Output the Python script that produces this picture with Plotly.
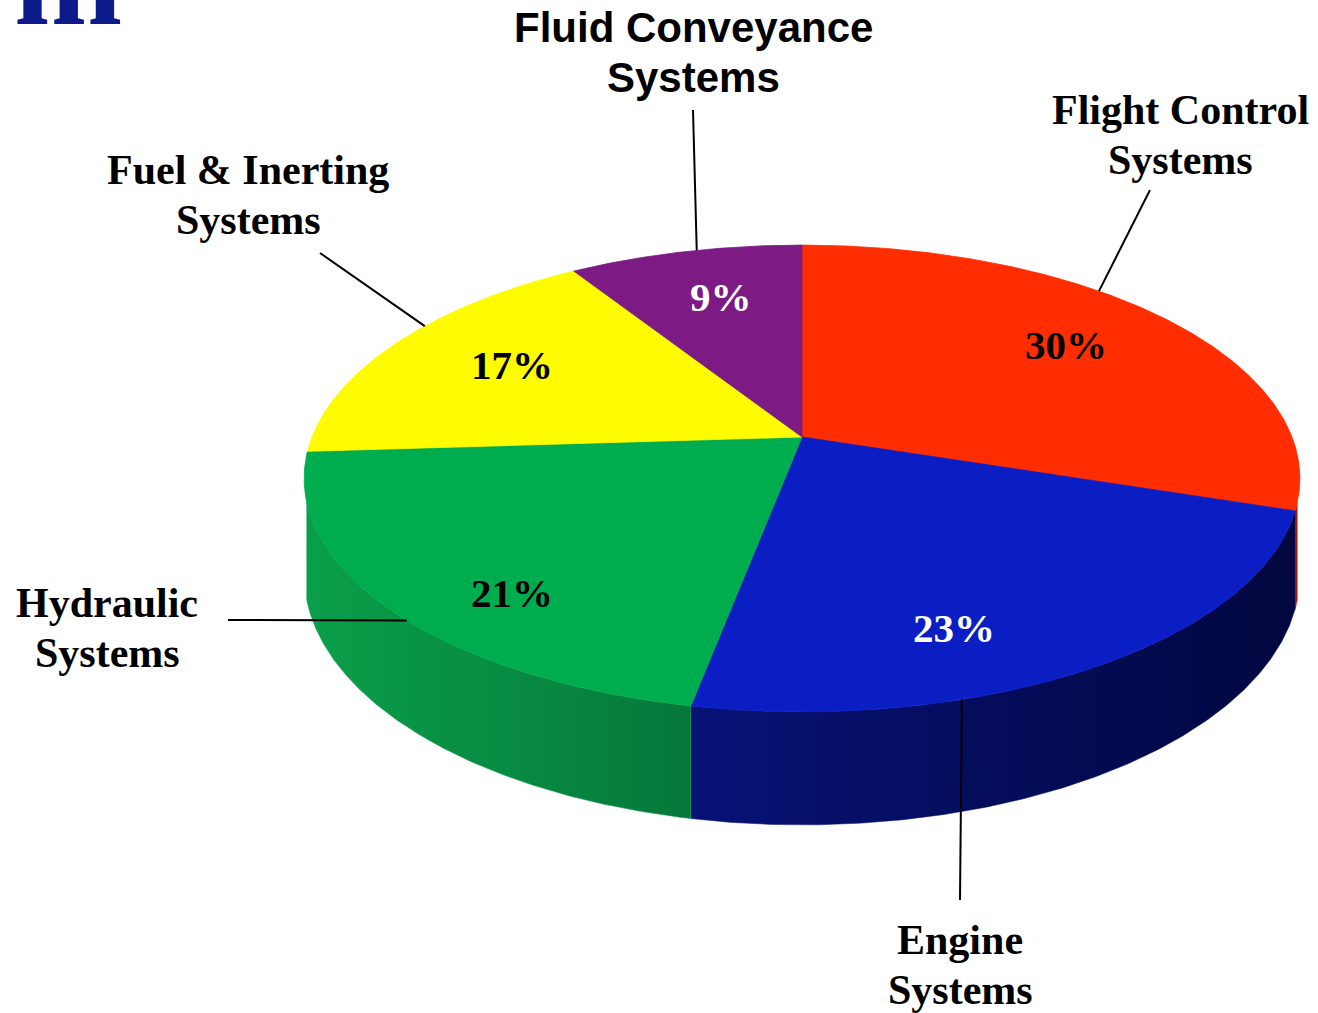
import numpy as np
import plotly.graph_objects as go

# ---------------- data ----------------
categories = ["Flight Control Systems", "Engine Systems", "Hydraulic Systems",
              "Fuel & Inerting Systems", "Fluid Conveyance Systems"]
values = [30, 23, 21, 17, 9]
pct_labels = ["30%", "23%", "21%", "17%", "9%"]
label_lines = [["Flight Control", "Systems"], ["Engine", "Systems"], ["Hydraulic", "Systems"],
               ["Fuel & Inerting", "Systems"], ["Fluid Conveyance", "Systems"]]

# ---------------- styles ----------------
top_colors = ["#ff2d00", "#0b1ec4", "#00ad4e", "#fffb00", "#7d1a83"]
side_colors = [["#c02000", "#901600"], ["#061276", "#02073f"], ["#0a9f4a", "#05783a"],
               ["#c8c400", "#a09c00"], ["#5a1060", "#400a45"]]
pct_colors = ["black", "white", "black", "black", "white"]
pct_r = [0.726, 0.783, 0.809, 0.713, 0.72]
pct_dt = [-1.0, 10.4, -8.0, 1.3, 1.3]
label_font = ["Liberation Serif"] * 4 + ["Liberation Sans"]
label_xy = [(1180, 110), (960, 940), (107, 603), (248, 170), (693, 27)]
leader_outer = [(1150, 190), (960, 900), (228, 620), (320, 253), (693, 110)]
leader_frac = [0.40, 0.68, 0.45, 0.59, 0.55]
LINE_GAP = 50
FONT_SIZE = 42
PCT_SIZE = 41

# perspective pie geometry (pixels)
CX, CY = 802, 437
F, G, K = 490, 226, 0.1776
DEPTH = 93
SIDE_RANGE = (106, 254)  # visible side band (degrees clockwise from top)


def proj(t_deg, r=1.0, h=0.0):
    t = np.radians(t_deg)
    X = r * np.sin(t)
    Z = r * np.cos(t)
    d = 1 + K * Z
    return CX + F * X / d, CY + (-G * Z + h) / d


total = float(sum(values))
cum = np.concatenate([[0], np.cumsum(values)]) / total * 360.0

fig = go.Figure()

# sides
for i in range(len(values)):
    a0, a1 = max(cum[i], SIDE_RANGE[0]), min(cum[i + 1], SIDE_RANGE[1])
    if a1 <= a0:
        continue
    tt = np.linspace(a0, a1, 200)
    xt, yt = proj(tt)
    xb, yb = proj(tt, h=DEPTH)
    xs = np.concatenate([xt, xb[::-1], xt[:1]])
    ys = np.concatenate([yt, yb[::-1], yt[:1]])
    fig.add_trace(go.Scatter(
        x=xs, y=ys, mode="lines", fill="toself",
        line=dict(width=0.5, color=side_colors[i][0]),
        fillgradient=dict(type="horizontal",
                          colorscale=[[0, side_colors[i][0]], [1, side_colors[i][1]]]),
        hoverinfo="skip", showlegend=False))

# top faces
for i in range(len(values)):
    tt = np.linspace(cum[i], cum[i + 1], 300)
    xr, yr = proj(tt)
    xs = np.concatenate([[CX], xr, [CX]])
    ys = np.concatenate([[CY], yr, [CY]])
    fig.add_trace(go.Scatter(
        x=xs, y=ys, mode="lines", fill="toself", fillcolor=top_colors[i],
        line=dict(width=0.8, color=top_colors[i]),
        hoverinfo="skip", showlegend=False))

annotations = []
# percentage labels
for i in range(len(values)):
    mid = (cum[i] + cum[i + 1]) / 2 + pct_dt[i]
    px, py = proj(mid, r=pct_r[i])
    annotations.append(dict(x=px, y=py, xref="x", yref="y", text=pct_labels[i], showarrow=False,
                            xanchor="center", yanchor="middle",
                            font=dict(family="Liberation Serif", size=PCT_SIZE,
                                      color=pct_colors[i], weight=700)))

# leader lines and category labels
for i in range(len(values)):
    t_in = cum[i] + leader_frac[i] * (cum[i + 1] - cum[i])
    ix, iy = proj(t_in)
    ox, oy = leader_outer[i]
    fig.add_trace(go.Scatter(x=[ox, ix], y=[oy, iy], mode="lines",
                             line=dict(color="black", width=2),
                             hoverinfo="skip", showlegend=False))
    lx, ly = label_xy[i]
    for j, line in enumerate(label_lines[i]):
        annotations.append(dict(x=lx, y=ly + j * LINE_GAP, xref="x", yref="y", text=line,
                                showarrow=False, xanchor="center", yanchor="middle",
                                font=dict(family=label_font[i], size=FONT_SIZE,
                                          color="black", weight=700)))

# clipped title fragment at top-left
annotations.append(dict(x=68 / 1318, y=1 + 20 / 1013, xref="paper", yref="paper", text="m",
                        showarrow=False, xanchor="center", yanchor="middle",
                        font=dict(family="Liberation Serif", size=130, color="#0c1a8c", weight=700)))

fig.update_layout(
    width=1318, height=1013,
    margin=dict(l=0, r=0, t=0, b=0),
    paper_bgcolor="white", plot_bgcolor="white",
    xaxis=dict(range=[0, 1318], visible=False, fixedrange=True),
    yaxis=dict(range=[1013, 0], visible=False, fixedrange=True),
    showlegend=False, hovermode=False,
    annotations=annotations,
)

fig.write_html("out.html", config={"displayModeBar": False},
               post_script="document.body.style.margin='0px';document.body.style.overflow='hidden';")
